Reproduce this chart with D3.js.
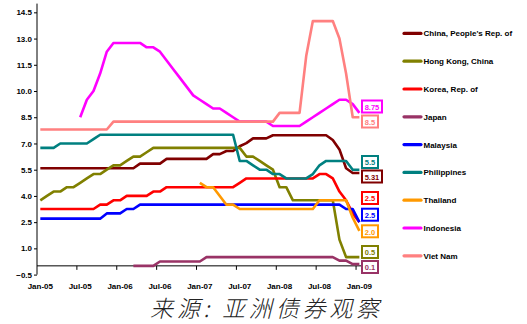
<!DOCTYPE html>
<html>
<head>
<meta charset="utf-8">
<script src="https://cdn.jsdelivr.net/npm/d3@7"></script>
<style>
  html, body { margin: 0; padding: 0; background: #fff; }
  svg { display: block; }
</style>
</head>
<body>
<svg id="chart" width="527" height="324"></svg>
<script>
// Monthly policy rates, Jan-05 .. Jan-09 (49 months)
const categories = d3.utcMonths(new Date(Date.UTC(2005, 0, 1)), new Date(Date.UTC(2009, 1, 1)));
const tickLabels = ["Jan-05", "Jul-05", "Jan-06", "Jul-06", "Jan-07", "Jul-07", "Jan-08", "Jul-08", "Jan-09"];
const yTicks = [-0.5, 1.0, 2.5, 4.0, 5.5, 7.0, 8.5, 10.0, 11.5, 13.0, 14.5];

const seriesNames = ["China, People's Rep. of", "Hong Kong, China", "Korea, Rep. of", "Japan",
  "Malaysia", "Philippines", "Thailand", "Indonesia", "Viet Nam"];
const seriesColors = ["#800000", "#808000", "#FF0000", "#993366", "#0000FF", "#008080", "#FF9900", "#FF00FF", "#FF8080"];

const rep = (v, n) => Array(n).fill(v);

const china = [...rep(5.58, 15), ...rep(5.85, 4), ...rep(6.12, 7), 6.39, 6.39, 6.57, 6.57, 6.84, 7.02,
  7.29, 7.29, 7.29, ...rep(7.47, 9), 7.20, 6.66, 5.58, 5.31, 5.31];
const hongKong = [3.75, 4.0, 4.25, 4.25, 4.5, 4.5, 4.75, 5.0, 5.25, 5.25, 5.5, 5.75, 5.75, 6.0, 6.25, 6.25, 6.5, 6.75,
  ...rep(6.75, 13), 6.25, 6.25, 6.0, 5.75, 5.5, 4.5, 4.5, 3.75, ...rep(3.75, 6), 1.5, 0.5, 0.5, 0.5];
const korea = [...rep(3.25, 9), 3.5, 3.5, 3.75, 3.75, ...rep(4.0, 4), 4.25, 4.25, ...rep(4.5, 11), 4.75,
  ...rep(5.0, 11), 5.25, 5.25, 5.0, 4.25, 3.75, 3.0, 2.5];
const japan = [...rep(null, 14), ...rep(0, 4), ...rep(0.25, 7), ...rep(0.5, 20), 0.3, 0.3, 0.1, 0.1];
const malaysia = [...rep(2.7, 10), 3.0, 3.0, 3.0, 3.25, 3.25, ...rep(3.5, 31), 3.25, 3.25, 2.5];
const philippines = [6.75, 6.75, 6.75, ...rep(7.0, 5), 7.25, ...rep(7.5, 21), 6.0, 6.0, 5.75, 5.5, 5.5, 5.25, 5.25,
  ...rep(5.0, 4), 5.25, 5.75, ...rep(6.0, 4), 5.5, 5.5];
const thailand = [...rep(null, 24), 4.75, 4.5, 4.5, 4.0, 3.5, 3.5, ...rep(3.25, 12), ...rep(3.75, 5), 2.75, 2.0];
const indonesia = [...rep(null, 6), 8.5, 9.5, 10.0, 11.0, 12.25, 12.75, ...rep(12.75, 4), 12.5, 12.5, 12.25,
  11.75, 11.25, 10.75, 10.25, 9.75, 9.5, 9.25, 9.0, 9.0, 8.75, 8.5, ...rep(8.25, 5), ...rep(8.0, 5),
  8.25, 8.5, 8.75, 9.0, 9.25, 9.5, 9.5, 9.25, 8.75];
const vietNam = [...rep(7.8, 11), ...rep(8.25, 25), ...rep(8.75, 4), 12.0, ...rep(14.0, 4), 13.0, 11.0, 8.5, 8.5];

const seriesValues = [china, hongKong, korea, japan, malaysia, philippines, thailand, indonesia, vietNam];

// Top edge of each end-of-line value box, in series order
const labelTop = [169.5, 245, 191, 260, 207.7, 155, 224.3, 99.5, 114.5];

const series = seriesNames.map((name, k) => ({
  name, color: seriesColors[k], values: seriesValues[k], labelTop: labelTop[k]
}));

const svg = d3.select("#chart");
const font = "'Liberation Sans', Arial, sans-serif";

const x = d3.scaleBand().domain(d3.range(categories.length)).range([37, 362.7]).paddingInner(0).paddingOuter(0);
const cx = i => x(i) + x.bandwidth() / 2;
const y = d3.scaleLinear().domain([-0.5, 15]).range([274.6, 3.6]);

// Y axis
const yAxis = d3.axisLeft(y).tickValues(yTicks).tickSize(3).tickPadding(2).tickFormat(d3.format(".1f"));
const gy = svg.append("g").attr("transform", "translate(37,0)").call(yAxis);
gy.select(".domain").attr("d", `M0,${y(15)}V${y(-0.5)}`).attr("stroke", "#000");
gy.selectAll(".tick line").attr("stroke", "#000");
gy.selectAll(".tick text").attr("font-family", font).attr("font-size", 8).attr("font-weight", "bold").attr("fill", "#000");

// X axis along zero
const gx = svg.append("g").attr("transform", `translate(0,${y(0)})`);
gx.append("line").attr("x1", 37).attr("x2", x.range()[1]).attr("stroke", "#000");
const tickIdx = d3.range(0, categories.length, 6);
gx.selectAll("line.tick").data(tickIdx.filter(i => i > 0)).join("line")
  .attr("class", "tick")
  .attr("x1", i => x(i)).attr("x2", i => x(i))
  .attr("y1", 0).attr("y2", 4).attr("stroke", "#000");
svg.append("g").selectAll("text").data(tickIdx).join("text")
  .attr("x", i => cx(i)).attr("y", 288.5)
  .attr("text-anchor", "middle")
  .attr("font-family", font).attr("font-size", 8).attr("font-weight", "bold")
  .text((i, k) => tickLabels[k]);

// Series lines
const line = d3.line()
  .defined(d => d.v !== null)
  .x(d => cx(d.i))
  .y(d => y(d.v));

svg.append("g").selectAll("path").data(series).join("path")
  .attr("fill", "none")
  .attr("stroke", d => d.color)
  .attr("stroke-width", 2.6)
  .attr("stroke-linejoin", "round")
  .attr("d", d => line(d.values.map((v, i) => ({ i, v }))));

// End-of-line value boxes
const fmtVal = v => (Math.round(v * 100) % 10 !== 0) ? v.toFixed(2) : v.toFixed(1);
const boxes = svg.append("g").selectAll("g").data(series).join("g");
boxes.each(function (d) {
  const g = d3.select(this);
  const txt = fmtVal(d.values[d.values.length - 1]);
  const w = txt.length > 3 ? 20 : 16;
  g.append("rect")
    .attr("x", 362).attr("y", d.labelTop + 1)
    .attr("width", w).attr("height", 12)
    .attr("fill", "#fff").attr("stroke", d.color).attr("stroke-width", 2);
  g.append("text")
    .attr("x", 362 + w / 2).attr("y", d.labelTop + 10.3)
    .attr("text-anchor", "middle")
    .attr("font-family", font).attr("font-size", 7.5).attr("font-weight", "bold")
    .attr("fill", d.color)
    .text(txt);
});

// Legend
const legend = svg.append("g").selectAll("g").data(series).join("g")
  .attr("transform", (d, k) => `translate(0,${33.4 + k * 27.8})`);
legend.append("line")
  .attr("x1", 404).attr("x2", 421).attr("y1", 0).attr("y2", 0)
  .attr("stroke", d => d.color).attr("stroke-width", 3.2).attr("stroke-linecap", "round");
legend.append("text")
  .attr("x", 423.5).attr("y", 3)
  .attr("font-family", font).attr("font-size", 8).attr("font-weight", "bold").attr("fill", "#000")
  .text(d => d.name);

// Source line
svg.append("text")
  .attr("x", 150).attr("y", 317)
  .attr("font-family", "'Noto Sans CJK SC', sans-serif")
  .attr("font-size", 23).attr("font-style", "italic").attr("font-weight", 300)
  .attr("letter-spacing", 3.8)
  .attr("fill", "#222")
  .text("来源: 亚洲债券观察");
</script>
</body>
</html>
